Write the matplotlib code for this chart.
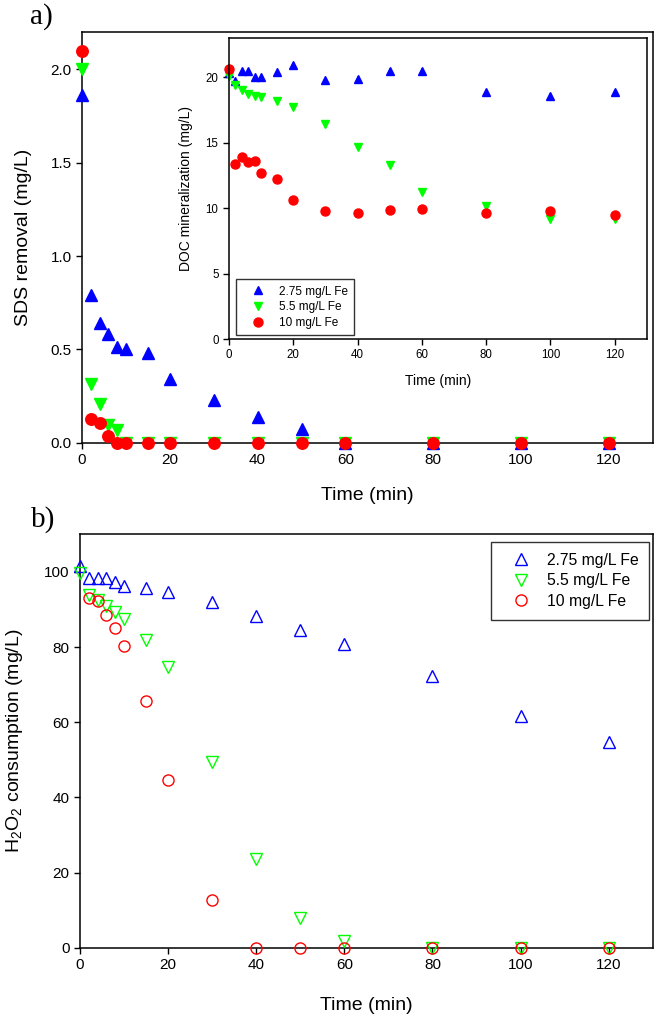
import matplotlib
matplotlib.use("Agg")
import matplotlib.pyplot as plt

plt.rcParams["font.family"] = ["Liberation Sans", "DejaVu Sans"]
plt.rcParams["mathtext.fontset"] = "custom"
plt.rcParams["mathtext.rm"] = "Liberation Sans"

# ---- data ----
time = [0, 2, 4, 6, 8, 10, 15, 20, 30, 40, 50, 60, 80, 100, 120]
labels = ["2.75 mg/L Fe", "5.5 mg/L Fe", "10 mg/L Fe"]

sds_fe275 = [1.86, 0.79, 0.64, 0.58, 0.51, 0.50, 0.48, 0.34, 0.23, 0.14, 0.075, 0, 0, 0, 0]
sds_fe55 = [2.0, 0.315, 0.205, 0.097, 0.07, 0, 0, 0, 0, 0, 0, 0, 0, 0, 0]
sds_fe10 = [2.1, 0.127, 0.106, 0.034, 0, 0, 0, 0, 0, 0, 0, 0, 0, 0, 0]

doc_fe275 = [20.3, 19.7, 20.5, 20.5, 20.0, 20.0, 20.4, 20.9, 19.8, 19.9, 20.5, 20.5, 18.9, 18.6, 18.9]
doc_fe55 = [20.1, 19.4, 19.0, 18.7, 18.6, 18.5, 18.2, 17.7, 16.4, 14.7, 13.3, 11.2, 10.2, 9.2, 9.15]
doc_fe10 = [20.6, 13.4, 13.9, 13.5, 13.6, 12.7, 12.2, 10.6, 9.8, 9.65, 9.85, 9.9, 9.65, 9.75, 9.5]

h2o2_fe275 = [101.5, 98.4, 98.4, 98.4, 97.4, 96.3, 95.6, 94.6, 92.1, 88.2, 84.5, 80.8, 72.3, 61.7, 54.7]
h2o2_fe55 = [99.7, 93.8, 92.6, 90.9, 89.3, 87.4, 81.8, 74.8, 49.5, 23.6, 7.9, 1.9, 0, 0, 0]
time_fe10 = [2, 4, 6, 8, 10, 15, 20, 30, 40, 50, 60, 80, 100, 120]
h2o2_fe10 = [93.1, 92.2, 88.6, 85.2, 80.2, 65.7, 44.5, 12.7, 0, 0, 0, 0, 0, 0]

blue, green, red = "#0000ff", "#00ff00", "#ff0000"

fig = plt.figure(figsize=(6.56, 10.16), dpi=100)


def style_axes(ax, tick_size, lw=1.1):
    for side in ["top", "right", "bottom", "left"]:
        ax.spines[side].set_linewidth(lw)
    ax.tick_params(direction="out", length=4, width=1.0, labelsize=tick_size,
                   top=False, right=False)


# ---- panel a ----
ax1 = fig.add_axes([0.125, 0.5643, 0.870, 0.4042])
ax1.plot(time, sds_fe275, "^", color=blue, ms=8.3, clip_on=False, zorder=3)
ax1.plot(time, sds_fe55, "v", color=green, ms=8.3, clip_on=False, zorder=3)
ax1.plot(time, sds_fe10, "o", color=red, ms=8.3, clip_on=False, zorder=3)
ax1.set_xlim(0, 130)
ax1.set_ylim(0, 2.2)
ax1.set_xticks([0, 20, 40, 60, 80, 100, 120])
ax1.set_yticks([0, 0.5, 1.0, 1.5, 2.0])
ax1.set_yticklabels(["0.0", "0.5", "1.0", "1.5", "2.0"])
style_axes(ax1, 11)
ax1.set_xlabel("Time (min)", fontsize=14)
ax1.set_ylabel("SDS removal (mg/L)", fontsize=14)
ax1.xaxis.set_label_coords(0.5, -0.108)
ax1.yaxis.set_label_coords(-0.088, 0.5)

# inset
ins = fig.add_axes([0.349, 0.6663, 0.637, 0.2963])
ins.plot(time, doc_fe275, "^", color=blue, ms=6.2, label=labels[0], clip_on=False)
ins.plot(time, doc_fe55, "v", color=green, ms=6.2, label=labels[1], clip_on=False)
ins.plot(time, doc_fe10, "o", color=red, ms=6.5, label=labels[2], clip_on=False)
ins.set_xlim(0, 130)
ins.set_ylim(0, 23)
ins.set_xticks([0, 20, 40, 60, 80, 100, 120])
ins.set_yticks([0, 5, 10, 15, 20])
style_axes(ins, 8.3)
ins.set_xlabel("Time (min)", fontsize=10)
ins.set_ylabel("DOC mineralization (mg/L)", fontsize=10)
ins.xaxis.set_label_coords(0.5, -0.115)
ins.yaxis.set_label_coords(-0.086, 0.5)
leg = ins.legend(loc="lower left", bbox_to_anchor=(0.016, 0.013), borderaxespad=0,
                 fontsize=8.5, frameon=True, fancybox=False, edgecolor="black",
                 handlelength=2.7, handletextpad=0.4, borderpad=0.55,
                 labelspacing=0.3)
leg.get_frame().set_linewidth(1.0)

fig.text(0.046, 0.977, "a)", family="Liberation Serif", fontsize=21, va="baseline")

# ---- panel b ----
ax2 = fig.add_axes([0.122, 0.0672, 0.873, 0.4069])
ax2.plot(time, h2o2_fe275, "^", mfc="none", mec=blue, mew=1.0, ms=8.0,
         label=labels[0], clip_on=False, zorder=3)
ax2.plot(time, h2o2_fe55, "v", mfc="none", mec=green, mew=1.0, ms=8.0,
         label=labels[1], clip_on=False, zorder=3)
ax2.plot(time_fe10, h2o2_fe10, "o", mfc="none", mec=red, mew=1.0, ms=8.0,
         label=labels[2], clip_on=False, zorder=3)
ax2.set_xlim(0, 130)
ax2.set_ylim(0, 110)
ax2.set_xticks([0, 20, 40, 60, 80, 100, 120])
ax2.set_yticks([0, 20, 40, 60, 80, 100])
style_axes(ax2, 11)
ax2.set_xlabel("Time (min)", fontsize=14)
ax2.set_ylabel("H$_2$O$_2$ consumption (mg/L)", fontsize=14)
ax2.xaxis.set_label_coords(0.5, -0.12)
ax2.yaxis.set_label_coords(-0.096, 0.5)
leg2 = ax2.legend(loc="upper right", bbox_to_anchor=(0.994, 0.982), borderaxespad=0,
                  fontsize=11.3, frameon=True, fancybox=False, edgecolor="black",
                  handlelength=2.4, handletextpad=0.45, borderpad=0.7,
                  labelspacing=0.35)
leg2.get_frame().set_linewidth(1.0)

fig.text(0.047, 0.4813, "b)", family="Liberation Serif", fontsize=21, va="baseline")

plt.savefig("out.png", dpi=100)
plt.close()
